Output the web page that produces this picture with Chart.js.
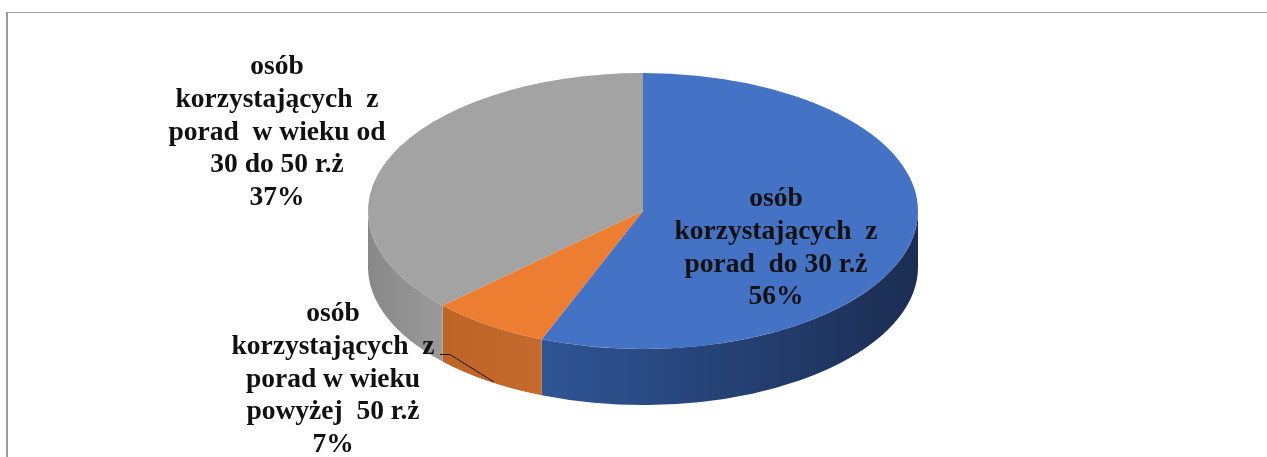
<!DOCTYPE html>
<html lang="pl">
<head>
<meta charset="utf-8">
<style>
html,body{margin:0;padding:0;background:#fff;overflow:hidden}
#wrap{position:relative;width:1267px;height:457px;overflow:hidden;background:#fff;filter:blur(0.6px)}
#frame{position:absolute;left:6px;top:12px;width:1300px;height:500px;border-left:2px solid #9a9a9a;border-top:1.5px solid #a4a4a4}
canvas{position:absolute;left:0;top:0}
</style>
<script src="https://cdn.jsdelivr.net/npm/chart.js@4/dist/chart.umd.js"></script>
</head>
<body>
<div id="wrap"><div id="frame"></div><canvas id="c" width="1267" height="457"></canvas></div>
<script>
const categories = [
  ['osób', 'korzystających  z', 'porad  do 30 r.ż'],
  ['osób', 'korzystających  z', 'porad w wieku', 'powyżej  50 r.ż'],
  ['osób', 'korzystających  z', 'porad  w wieku od', '30 do 50 r.ż']
];
const shareValues = [56, 7, 37];
const topColors = ['#4472c4', '#ed7d31', '#a3a3a3'];
const sideColors = [['#2f5596', '#1b2d52'], ['#bd6426', '#c46a2c'], ['#888888', '#9a9a9a']];
const labelCentres = [[776, 199], [333, 314], [277, 67]];

const ELLIPSE_X = 275 / 138;
const DEPTH = 56;
const LINE_H = 32.7;

const pie3d = {
  id: 'pie3d',
  beforeDatasetsDraw(chart) {
    const ctx = chart.ctx, arcs = chart.getDatasetMeta(0).data;
    const cx = arcs[0].x, cy = arcs[0].y, ry = arcs[0].outerRadius, rx = ry * ELLIPSE_X;
    arcs.forEach((arc, i) => {
      const a0 = Math.max(arc.startAngle, 0), a1 = Math.min(arc.endAngle, Math.PI);
      if (a1 <= a0) return;
      const xs = [cx + rx * Math.cos(a0), cx + rx * Math.cos(a1)];
      const g = ctx.createLinearGradient(Math.min(...xs), 0, Math.max(...xs), 0);
      g.addColorStop(0, sideColors[i][0]);
      g.addColorStop(1, sideColors[i][1]);
      ctx.beginPath();
      ctx.ellipse(cx, cy, rx, ry, 0, a0, a1);
      ctx.ellipse(cx, cy + DEPTH, rx, ry, 0, a1, a0, true);
      ctx.closePath();
      ctx.fillStyle = g;
      ctx.fill();
    });
    ctx.save();
    ctx.translate(cx, 0);
    ctx.scale(ELLIPSE_X, 1);
    ctx.translate(-cx, 0);
  },
  afterDatasetsDraw(chart) {
    const ctx = chart.ctx;
    ctx.restore();
    ctx.save();
    ctx.strokeStyle = '#1a1208';
    ctx.lineWidth = 1;
    ctx.beginPath();
    ctx.moveTo(440, 354.5);
    ctx.lineTo(450, 354.5);
    ctx.lineTo(494, 382);
    ctx.stroke();
    ctx.fillStyle = '#111';
    ctx.font = 'bold 27.5px "Liberation Serif"';
    ctx.textAlign = 'center';
    ctx.textBaseline = 'middle';
    categories.forEach((lines, i) => {
      const [x, y] = labelCentres[i];
      [...lines, shareValues[i] + '%'].forEach((t, k) => ctx.fillText(t, x, y + k * LINE_H));
    });
    ctx.restore();
  }
};

new Chart(document.getElementById('c'), {
  type: 'pie',
  data: {
    labels: categories.map(l => l.join(' ')),
    datasets: [{ data: shareValues, backgroundColor: topColors, borderWidth: 0 }]
  },
  options: {
    responsive: false,
    animation: false,
    layout: { padding: { left: 19, right: 0, top: 73, bottom: 108 } },
    plugins: { legend: { display: false }, tooltip: { enabled: false }, title: { display: false } }
  },
  plugins: [pie3d]
});
</script>
</body>
</html>
